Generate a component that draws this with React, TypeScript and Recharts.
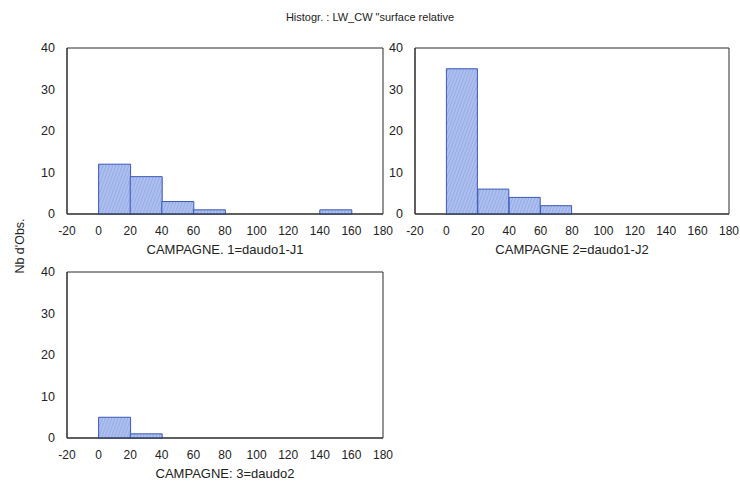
import React from "react";
import { BarChart, Bar, XAxis, YAxis, ReferenceArea } from "recharts";

const binMids = [10, 30, 50, 70, 90, 110, 130, 150, 170];
const countsJ1 = [12, 9, 3, 1, 0, 0, 0, 1, 0];
const countsJ2 = [35, 6, 4, 2, 0, 0, 0, 0, 0];
const countsD2 = [5, 1, 0, 0, 0, 0, 0, 0, 0];
const xTicks = [-20, 0, 20, 40, 60, 80, 100, 120, 140, 160, 180];
const yTicks = [0, 10, 20, 30, 40];
const panelLabels = ["CAMPAGNE. 1=daudo1-J1", "CAMPAGNE  2=daudo1-J2", "CAMPAGNE: 3=daudo2"];
const titleText = "Histogr. : LW_CW \"surface relative";
const yLabelText = "Nb d'Obs.";

const FONT = "'Liberation Sans', Arial, sans-serif";
const AXIS = "#2a2a2a";

function Panel({ counts, label, left, top, right }: { counts: number[]; label: string; left: number; top: number; right: number }) {
  const data = binMids.map((m, i) => ({ x: m, n: counts[i] }));
  return (
    <div style={{ position: "absolute", left, top }}>
      <BarChart
        width={400}
        height={260}
        data={data}
        margin={{ top: 48, right, left: 7, bottom: 16 }}
        barCategoryGap={0}
        barGap={0}
      >
        <XAxis
          dataKey="x"
          type="number"
          domain={[-20, 180]}
          ticks={xTicks}
          interval={0}
          allowDataOverflow
          height={30}
          stroke={AXIS}
          tickLine={false}
          tick={{ fill: "#222", fontSize: 12, fontFamily: FONT }}
          tickMargin={6}
          label={{ value: label, position: "insideBottom", offset: -10, fill: "#222", fontSize: 13, fontFamily: FONT }}
        />
        <YAxis
          domain={[0, 40]}
          ticks={yTicks}
          interval={0}
          width={60}
          stroke={AXIS}
          tickLine={false}
          tick={{ fill: "#222", fontSize: 12.5, fontFamily: FONT }}
          tickMargin={6}
        />
        <ReferenceArea x1={-20} x2={180} y1={0} y2={40} fill="none" fillOpacity={0} stroke={AXIS} strokeWidth={1} ifOverflow="visible" />
        <Bar dataKey="n" fill="url(#hatchBlue)" stroke="#3a58b8" strokeWidth={1} isAnimationActive={false} />
      </BarChart>
    </div>
  );
}

export default function App() {
  return (
    <div style={{ position: "absolute", left: 0, top: 0, width: 740, height: 483, background: "#fff", fontFamily: FONT }}>
      <svg width={740} height={483} style={{ position: "absolute", left: 0, top: 0 }}>
        <defs>
          <pattern id="hatchBlue" patternUnits="userSpaceOnUse" width={3} height={3} patternTransform="rotate(20)">
            <rect x={0} y={0} width={3} height={3} fill="#adc0f0" />
            <line x1={0} y1={0} x2={0} y2={3} stroke="#7f96d8" strokeWidth={1} />
          </pattern>
        </defs>
        <text x={370} y={21} textAnchor="middle" fontSize={11} fill="#222" fontFamily={FONT}>{titleText}</text>
        <text x={24} y={246} textAnchor="middle" fontSize={12.5} fill="#222" fontFamily={FONT} transform="rotate(-90 24 246)">{yLabelText}</text>
      </svg>
      <Panel counts={countsJ1} label={panelLabels[0]} left={0} top={0} right={17} />
      <Panel counts={countsJ2} label={panelLabels[1]} left={348} top={0} right={19} />
      <Panel counts={countsD2} label={panelLabels[2]} left={0} top={224} right={17} />
    </div>
  );
}
